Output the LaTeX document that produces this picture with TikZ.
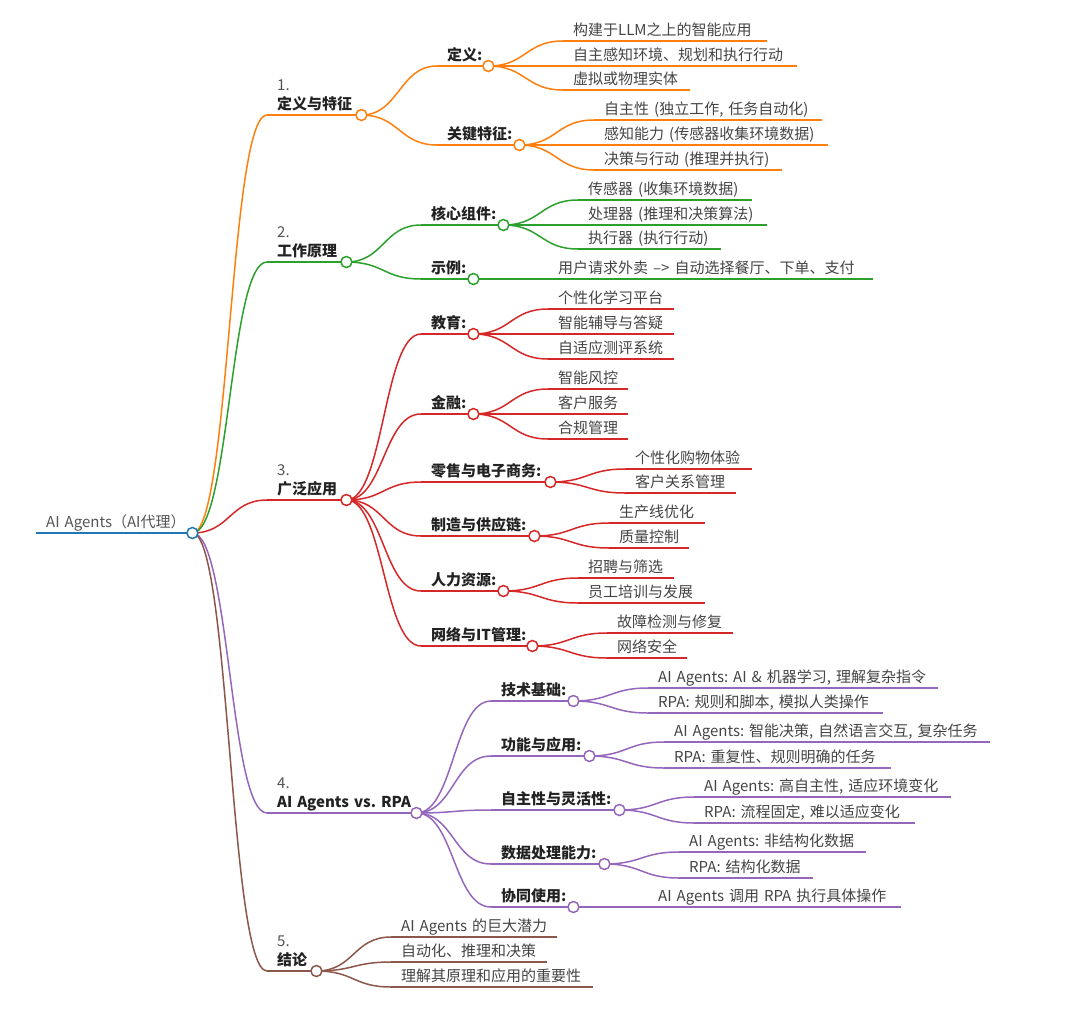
\documentclass[tikz,border=0pt]{standalone}
\usepackage{fontspec}
\setmainfont{Noto Sans CJK SC}
\usetikzlibrary{positioning}

\definecolor{c0}{HTML}{1F77B4}
\definecolor{c1}{HTML}{FF7F0E}
\definecolor{c2}{HTML}{2CA02C}
\definecolor{c3}{HTML}{D62728}
\definecolor{c4}{HTML}{9467BD}
\definecolor{c5}{HTML}{8C564B}
\definecolor{leaftxt}{HTML}{444444}
\definecolor{headtxt}{HTML}{222222}
\definecolor{numtxt}{HTML}{555555}
\newcommand\mmfont{\fontsize{15pt}{18pt}\selectfont\frenchspacing}

\tikzset{
  leaf/.style 2 args={anchor=south west, inner xsep=10pt, inner ysep=0pt,
    text height=11pt, text depth=5pt, text width=#1, font=\mmfont, text=leaftxt,
    execute at begin node=\hbox\bgroup, execute at end node=\egroup,
    append after command={(\tikzlastnode.south west) edge[line width=1.5pt, draw=#2] (\tikzlastnode.south east)}},
  head/.style 2 args={leaf={#1}{#2}, font=\mmfont\bfseries, text=headtxt},
  num/.style={inner sep=0pt, text depth=0pt, font=\mmfont, text=numtxt},
  dot/.style={circle, draw=#1, fill=white, line width=1.5pt, inner sep=0pt, minimum size=11pt},
  link/.style={draw=#1, line width=1.5pt},
}

\begin{document}
\begin{tikzpicture}[x=1pt, y=-1pt]
  \useasboundingbox (0,0) rectangle (1080,1010);

  \node[leaf={136pt}{c0, line width=2.3pt}, text=numtxt] (ai) at (36,533) {AI Agents（AI代理）};

  % 1. definition
  \node[head={74pt}{c1}] (def) at (267,115) {定义与特征};
  \node[num, above right=7.5pt and 10pt of def.north west] (defno) {1.};
  \node[head={31pt}{c1}] (defn) at (437,66) {定义:};
  \node[head={62pt}{c1}] (feat) at (437,145) {关键特征:};
  \node[leaf={184pt}{c1}] (defn1) at (563,41) {构建于LLM之上的智能应用};
  \node[leaf={214pt}{c1}] (defn2) at (563,66) {自主感知环境、规划和执行行动};
  \node[leaf={107pt}{c1}] (defn3) at (563,90) {虚拟或物理实体};
  \node[leaf={208pt}{c1}] (feat1) at (594,120) {自主性 (独立工作, 任务自动化)};
  \node[leaf={214pt}{c1}] (feat2) at (594,145) {感知能力 (传感器收集环境数据)};
  \node[leaf={168pt}{c1}] (feat3) at (594,170) {决策与行动 (推理并执行)};
  \foreach \from/\to in {ai/def,def/defn,def/feat,defn/defn1,defn/defn2,defn/defn3,feat/feat1,feat/feat2,feat/feat3}
    \draw[link=c1] (\from.south east) .. controls +(37.5,0) and +(-37.5,0) .. (\to.south west);
  \foreach \n in {def,defn,feat}
    \node[dot=c1] (\n-o) at (\n.south east) {};

  % 2. how it works
  \node[head={59pt}{c2}] (work) at (267,262) {工作原理};
  \node[num, above right=7.5pt and 10pt of work.north west] (workno) {2.};
  \node[head={62pt}{c2}] (comp) at (421,225) {核心组件:};
  \node[head={32pt}{c2}] (demo) at (421,279) {示例:};
  \node[leaf={154pt}{c2}] (comp1) at (578,200) {传感器 (收集环境数据)};
  \node[leaf={169pt}{c2}] (comp2) at (578,225) {处理器 (推理和决策算法)};
  \node[leaf={123pt}{c2}] (comp3) at (578,249) {执行器 (执行行动)};
  \node[leaf={305pt}{c2}] (demo1) at (548,279) {用户请求外卖 –> 自动选择餐厅、下单、支付};
  \foreach \from/\to in {ai/work,work/comp,work/demo,comp/comp1,comp/comp2,comp/comp3,demo/demo1}
    \draw[link=c2] (\from.south east) .. controls +(37.5,0) and +(-37.5,0) .. (\to.south west);
  \foreach \n in {work,comp,demo}
    \node[dot=c2] (\n-o) at (\n.south east) {};

  % 3. applications
  \node[head={59pt}{c3}] (app) at (267,500) {广泛应用};
  \node[num, above right=7.5pt and 10pt of app.north west] (appno) {3.};
  \node[head={32pt}{c3}] (edu) at (421,334) {教育:};
  \node[head={32pt}{c3}] (fin) at (421,414) {金融:};
  \node[head={109pt}{c3}] (shop) at (421,482) {零售与电子商务:};
  \node[head={93pt}{c3}] (mfg) at (421,536) {制造与供应链:};
  \node[head={62pt}{c3}] (hr) at (421,591) {人力资源:};
  \node[head={91pt}{c3}] (it) at (421,646) {网络与IT管理:};
  \node[leaf={106pt}{c3}] (edu1) at (548,309) {个性化学习平台};
  \node[leaf={106pt}{c3}] (edu2) at (548,334) {智能辅导与答疑};
  \node[leaf={106pt}{c3}] (edu3) at (548,359) {自适应测评系统};
  \node[leaf={60pt}{c3}] (fin1) at (548,389) {智能风控};
  \node[leaf={60pt}{c3}] (fin2) at (548,414) {客户服务};
  \node[leaf={60pt}{c3}] (fin3) at (548,439) {合规管理};
  \node[leaf={107pt}{c3}] (shop1) at (625,469) {个性化购物体验};
  \node[leaf={91pt}{c3}] (shop2) at (625,493) {客户关系管理};
  \node[leaf={76pt}{c3}] (mfg1) at (609,523) {生产线优化};
  \node[leaf={60pt}{c3}] (mfg2) at (609,548) {质量控制};
  \node[leaf={76pt}{c3}] (hr1) at (578,578) {招聘与筛选};
  \node[leaf={107pt}{c3}] (hr2) at (578,603) {员工培训与发展};
  \node[leaf={106pt}{c3}] (it1) at (607,633) {故障检测与修复};
  \node[leaf={60pt}{c3}] (it2) at (607,658) {网络安全};
  \foreach \from/\to in {ai/app,app/edu,app/fin,app/shop,app/mfg,app/hr,app/it,
      edu/edu1,edu/edu2,edu/edu3,fin/fin1,fin/fin2,fin/fin3,shop/shop1,shop/shop2,
      mfg/mfg1,mfg/mfg2,hr/hr1,hr/hr2,it/it1,it/it2}
    \draw[link=c3] (\from.south east) .. controls +(37.5,0) and +(-37.5,0) .. (\to.south west);
  \foreach \n in {app,edu,fin,shop,mfg,hr,it}
    \node[dot=c3] (\n-o) at (\n.south east) {};

  % 4. agents vs rpa
  \node[head={129pt}{c4}] (vs) at (267,813) {AI Agents vs. RPA};
  \node[num, above right=7.5pt and 10pt of vs.north west] (vsno) {4.};
  \node[head={62pt}{c4}] (tech) at (491,701) {技术基础:};
  \node[head={78pt}{c4}] (func) at (491,756) {功能与应用:};
  \node[head={108pt}{c4}] (auto) at (491,810) {自主性与灵活性:};
  \node[head={93pt}{c4}] (data) at (491,864) {数据处理能力:};
  \node[head={62pt}{c4}] (coop) at (491,907) {协同使用:};
  \node[leaf={270pt}{c4}] (tech1) at (648,688) {AI Agents: AI \& 机器学习, 理解复杂指令};
  \node[leaf={215pt}{c4}] (tech2) at (648,713) {RPA: 规则和脚本, 模拟人类操作};
  \node[leaf={306pt}{c4}] (func1) at (664,742) {AI Agents: 智能决策, 自然语言交互, 复杂任务};
  \node[leaf={207pt}{c4}] (func2) at (664,768) {RPA: 重复性、规则明确的任务};
  \node[leaf={237pt}{c4}] (auto1) at (694,797) {AI Agents: 高自主性, 适应环境变化};
  \node[leaf={201pt}{c4}] (auto2) at (694,823) {RPA: 流程固定, 难以适应变化};
  \node[leaf={167pt}{c4}] (data1) at (679,852) {AI Agents: 非结构化数据};
  \node[leaf={114pt}{c4}] (data2) at (679,878) {RPA: 结构化数据};
  \node[leaf={233pt}{c4}] (coop1) at (648,907) {AI Agents 调用 RPA 执行具体操作};
  \foreach \from/\to in {ai/vs,vs/tech,vs/func,vs/auto,vs/data,vs/coop,
      tech/tech1,tech/tech2,func/func1,func/func2,auto/auto1,auto/auto2,
      data/data1,data/data2,coop/coop1}
    \draw[link=c4] (\from.south east) .. controls +(37.5,0) and +(-37.5,0) .. (\to.south west);
  \foreach \n in {vs,tech,func,auto,data,coop}
    \node[dot=c4] (\n-o) at (\n.south east) {};

  % 5. conclusion
  \node[head={29pt}{c5}] (sum) at (267,971) {结论};
  \node[num, above right=7.5pt and 10pt of sum.north west] (sumno) {5.};
  \node[leaf={146pt}{c5}] (sum1) at (391,937) {AI Agents 的巨大潜力};
  \node[leaf={136pt}{c5}] (sum2) at (391,962) {自动化、推理和决策};
  \node[leaf={182pt}{c5}] (sum3) at (391,987) {理解其原理和应用的重要性};
  \foreach \from/\to in {ai/sum,sum/sum1,sum/sum2,sum/sum3}
    \draw[link=c5] (\from.south east) .. controls +(37.5,0) and +(-37.5,0) .. (\to.south west);
  \node[dot=c5] (sum-o) at (sum.south east) {};

  \node[dot=c0] (ai-o) at (ai.south east) {};
\end{tikzpicture}
\end{document}
